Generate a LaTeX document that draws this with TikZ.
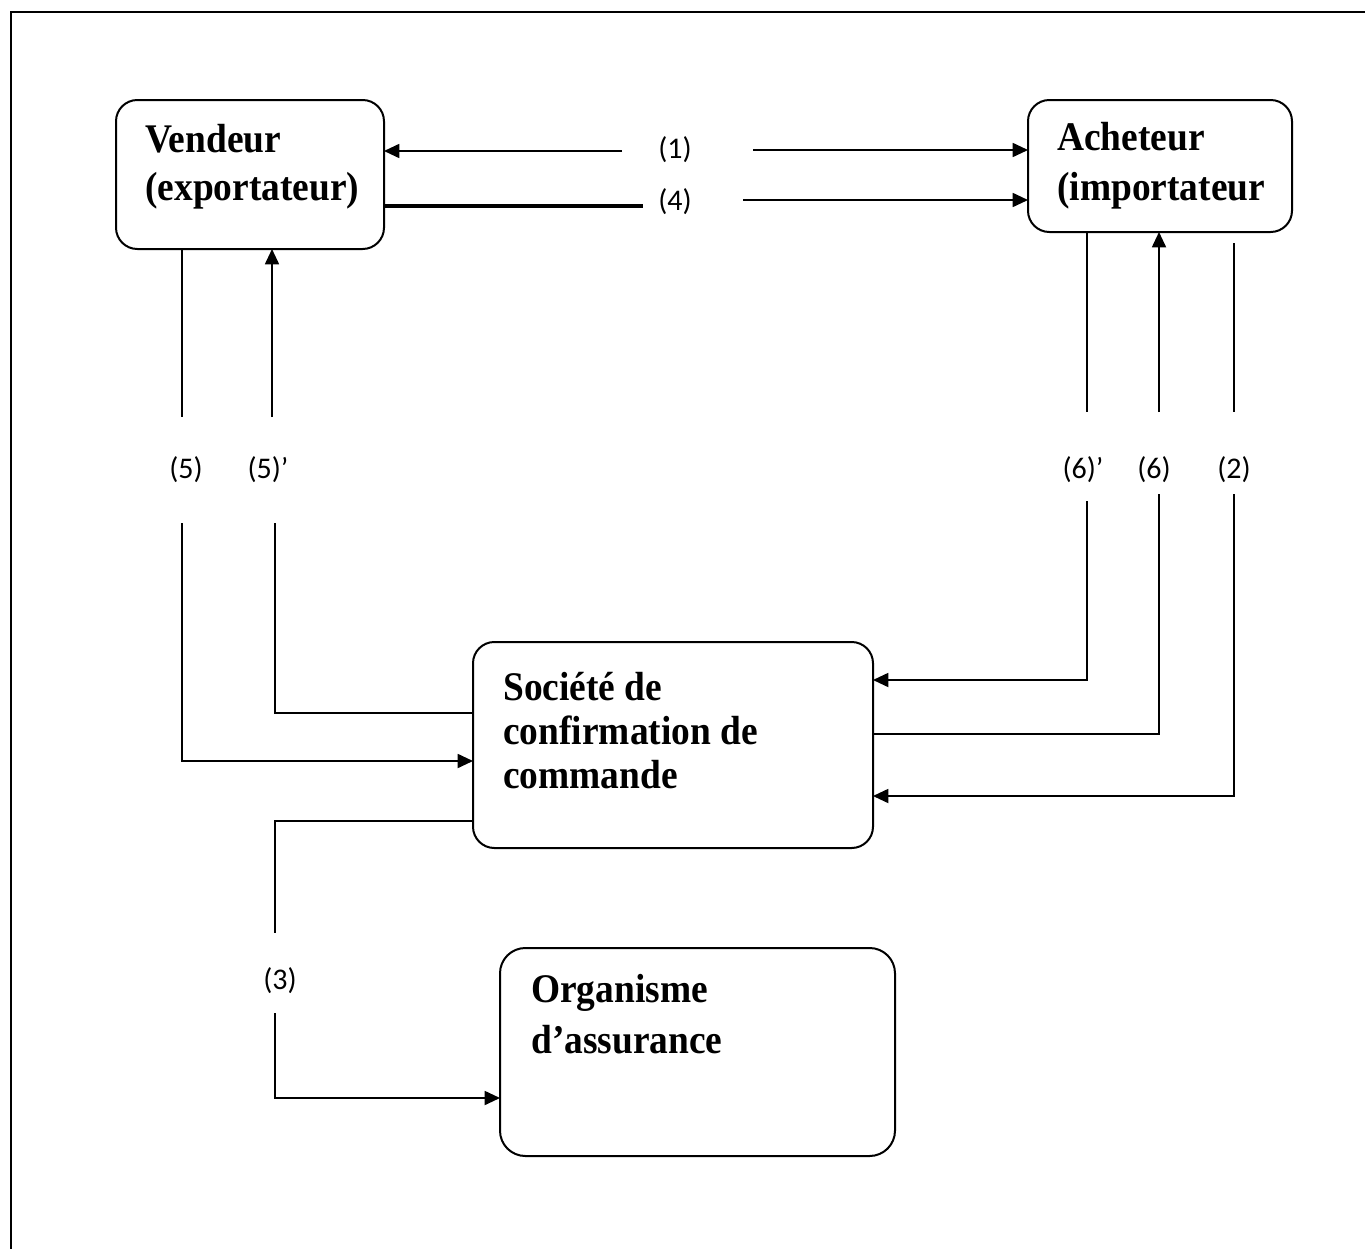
\documentclass[tikz,border=0pt]{standalone}
\usepackage{fontspec}
\setmainfont{Liberation Serif}
\newfontfamily\boxfont{Liberation Serif}[FakeStretch=0.92]
\newfontfamily\lblfont{Carlito}
\usetikzlibrary{arrows.meta}
\newcommand{\pxu}{0.75pt}
\begin{document}
\begin{tikzpicture}[x=0.75pt,y=-0.75pt,
  box/.style={draw, line width=1.5pt, rounded corners=16pt, inner sep=0pt, outer sep=0pt},
  boxtext/.style={anchor=base west, inner sep=0pt, font=\boxfont\bfseries\fontsize{30.5}{36}\selectfont},
  num/.style={inner sep=0pt, font=\lblfont\fontsize{22.5}{26}\selectfont},
  link/.style={line width=1.35pt},
  heavy/.style={line width=3pt},
  tip/.style={-{Triangle[length=11.5pt,width=10.5pt]}},
]
\useasboundingbox (0,0) rectangle (1365,1249);

% outer frame, open at the right and at the bottom
\draw[line width=1.6pt] (11,1249) -- (11,12) -- (1365,12);

% the four parties
\node[box, minimum width=268*\pxu, minimum height=149*\pxu] (vend) at (250,174.5) {};
\node[box, minimum width=264*\pxu, minimum height=132*\pxu] (ach) at (1160,166) {};
\node[box, minimum width=400*\pxu, minimum height=206*\pxu] (soc) at (673,745) {};
\node[box, rounded corners=19pt, minimum width=395*\pxu, minimum height=208*\pxu] (org) at (697.5,1052) {};

\node[boxtext] (vendtxt) at (145,152) {\vtop{\hbox{Vendeur}\hbox{(exportateur)}}};
\node[boxtext, font=\boxfont\bfseries\fontsize{30.5}{37.5}\selectfont] (achtxt) at (1057,150)
  {\vtop{\hbox{Acheteur}\hbox{(importateur}}};
\node[boxtext, font=\boxfont\bfseries\fontsize{30.5}{33}\selectfont] (soctxt) at (503,700)
  {\vtop{\hbox{Société de}\hbox{confirmation de}\hbox{commande}}};
\node[boxtext, font=\boxfont\bfseries\fontsize{30.5}{38.25}\selectfont] (orgtxt) at (531,1002)
  {\vtop{\hbox{Organisme}\hbox{d’assurance}}};

% step numbers
\node[num] (n1) at (675,150) {(1)};
\node[num] (n4) at (675,202) {(4)};
\node[num] (n5) at (186,470) {(5)};
\node[num] (n5p) at (268,470) {(5)’};
\node[num] (n6p) at (1083,470) {(6)’};
\node[num] (n6) at (1154,470) {(6)};
\node[num] (n2) at (1234,470) {(2)};
\node[num] (n3) at (280,981) {(3)};

% free ends of the interrupted connectors
\coordinate (a1) at (622,151);
\coordinate (b1) at (753,150);
\coordinate (a4) at (643,206);
\coordinate (b4) at (743,200);
\coordinate (v5a) at (182,417);
\coordinate (v5b) at (182,523);
\coordinate (v5pa) at (272,417);
\coordinate (v5pb) at (275,523);
\coordinate (a6pa) at (1087,412);
\coordinate (a6pb) at (1087,501);
\coordinate (a6a) at (1159,412);
\coordinate (a6b) at (1159,494);
\coordinate (a2top) at (1234,243);
\coordinate (a2a) at (1234,412);
\coordinate (a2b) at (1234,494);
\coordinate (s3a) at (275,933);
\coordinate (s3b) at (275,1013);

% (1) and (4)
\draw[link,tip] (a1) -- (vend.east |- a1);
\draw[link,tip] (b1) -- (ach.west |- b1);
\draw[heavy] (vend.east |- a4) -- (a4);
\draw[link,tip] (b4) -- (ach.west |- b4);

% (5) and (5)'
\draw[link] (vend.south -| v5a) -- (v5a);
\draw[link,tip] (v5b) |- ([yshift=-12pt]soc.west);
\draw[link,tip] (v5pa) -- (vend.south -| v5pa);
\draw[link] (v5pb) |- ([yshift=24pt]soc.west);

% (6)', (6) and (2)
\draw[link] (ach.south -| a6pa) -- (a6pa);
\draw[link,tip] (a6pb) |- ([yshift=48.75pt]soc.east);
\draw[link,tip] (a6a) -- (ach.south -| a6a);
\draw[link] (a6b) |- ([yshift=8.25pt]soc.east);
\draw[link] (a2top) -- (a2a);
\draw[link,tip] (a2b) |- ([yshift=-38.25pt]soc.east);

% (3)
\draw[link] ([yshift=-57pt]soc.west) -| (s3a);
\draw[link,tip] (s3b) |- ([yshift=-34.5pt]org.west);
\end{tikzpicture}
\end{document}
